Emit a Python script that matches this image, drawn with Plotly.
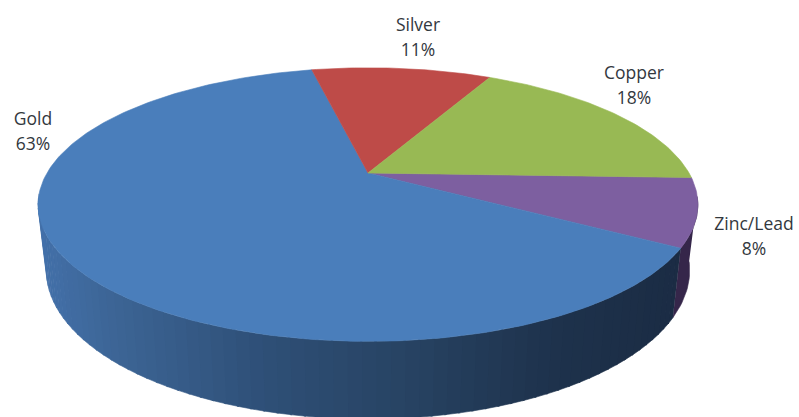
import numpy as np
import plotly.graph_objects as go

# --- data ---
categories = ["Zinc/Lead", "Gold", "Silver", "Copper"]
shares = [8, 63, 11, 18]
top_colors = ["#7D5FA0", "#4A7EBB", "#BE4B48", "#98B954"]

# --- view geometry (pixel space of the 799x417 page) ---
W, H = 799, 417
CX, CY = 368.0, 173.0
RX, RY, PERSP = 321.0, 129.5, 0.2308
FLOOR_SCALE, FLOOR_DROP = 0.975, 63.0
START_DEG = 2.0


def project(theta_deg, floor=False):
    t = np.radians(theta_deg)
    u, v = np.cos(t), np.sin(t)
    w = 1 - PERSP * v
    f = FLOOR_SCALE if floor else 1.0
    d = FLOOR_DROP if floor else 0.0
    return CX + f * RX * u / w, CY + (f * RY * v + d) / w


def gold_side_color(x):
    xs = [35, 120, 260, 400, 560, 690]
    rs = [68, 60, 47, 40, 30, 27]
    gs = [113, 100, 80, 68, 50, 44]
    bs = [170, 148, 120, 100, 76, 68]
    return "rgb(%d,%d,%d)" % (np.interp(x, xs, rs), np.interp(x, xs, gs), np.interp(x, xs, bs))


fig = go.Figure()

# slice angular bounds from the data
edges = START_DEG + np.concatenate([[0], np.cumsum(shares)]) * 360.0 / sum(shares)
bounds = {c: (edges[i], edges[i + 1]) for i, c in enumerate(categories)}


def add_poly(xs, ys, color):
    fig.add_trace(go.Scatter(x=xs, y=ys, mode="lines", fill="toself", fillcolor=color,
                             line=dict(color=color, width=0.6), hoverinfo="skip", showlegend=False))


# side wall, back to front
a0, a1 = bounds["Zinc/Lead"]
side = np.linspace(10, a1, 20)
xt, yt = project(side)
xb, yb = project(side, floor=True)
add_poly(list(xt) + list(xb[::-1]), list(yt) + list(yb[::-1]), "#35264A")

g0 = bounds["Gold"][0]
steps = np.arange(g0, 172, 2.0)
for s, e in zip(steps[:-1], steps[1:]):
    seg = np.linspace(s, e + 0.3, 4)
    xt, yt = project(seg)
    xb, yb = project(seg, floor=True)
    add_poly(list(xt) + list(xb[::-1]), list(yt) + list(yb[::-1]), gold_side_color(xt.mean()))

# top face
for cat, col in zip(categories, top_colors):
    a, b = bounds[cat]
    arc = np.linspace(a, b, max(8, int(b - a)))
    x, y = project(arc)
    add_poly([CX] + list(x) + [CX], [CY] + list(y) + [CY], col)

# labels
label_pos = {"Gold": (33, 121, 146), "Silver": (418, 27, 52), "Copper": (634, 75, 100), "Zinc/Lead": (754, 226, 251)}
for cat, val in zip(categories, shares):
    lx, y1, y2 = label_pos[cat]
    fig.add_trace(go.Scatter(x=[lx, lx], y=[y1, y2], mode="text", text=[cat, f"{val}%"],
                             textposition="middle center",
                             textfont=dict(family="Open Sans", size=17.5, color="#33383E"),
                             hoverinfo="skip", showlegend=False))

fig.update_layout(width=W, height=H, margin=dict(l=0, r=0, t=0, b=0),
                  paper_bgcolor="white", plot_bgcolor="white", showlegend=False,
                  xaxis=dict(range=[0, W], visible=False, fixedrange=True),
                  yaxis=dict(range=[H, 0], visible=False, fixedrange=True))
fig.write_html("out.html", config={"displayModeBar": False},
               post_script="document.body.style.margin='0';document.body.style.overflow='hidden';")
